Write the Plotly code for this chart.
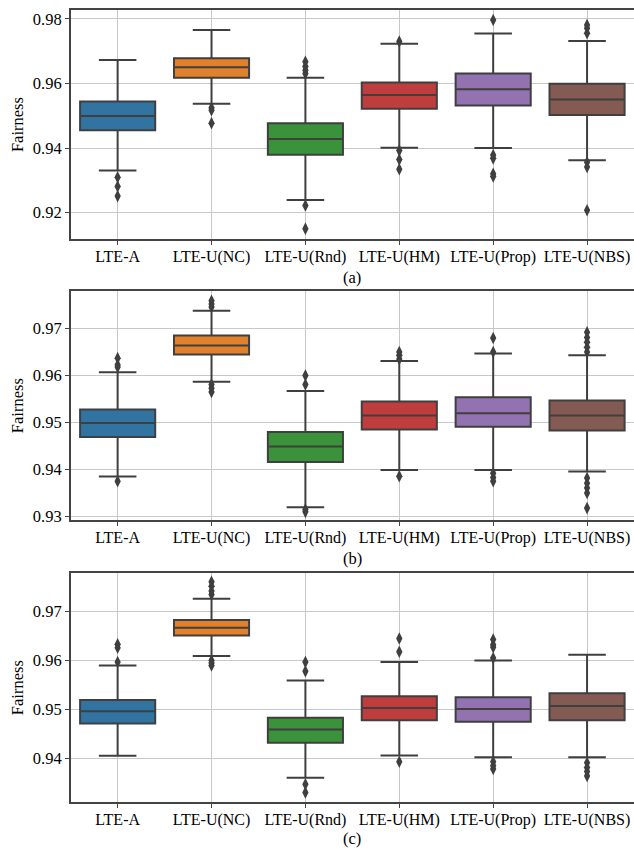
import plotly.graph_objects as go

categories = ["LTE-A", "LTE-U(NC)", "LTE-U(Rnd)", "LTE-U(HM)", "LTE-U(Prop)", "LTE-U(NBS)"]
colors = ["#3274a1", "#e1812c", "#3a923a", "#c03d3e", "#9372b2", "#845b53"]
panel_labels = ["(a)", "(b)", "(c)"]

# Panel (a)
lo_a  = [0.9330, 0.9537, 0.9239, 0.9401, 0.9400, 0.9362]
q1_a  = [0.9455, 0.9618, 0.9379, 0.9522, 0.9532, 0.9502]
med_a = [0.9499, 0.9650, 0.9428, 0.9564, 0.9582, 0.9550]
q3_a  = [0.9544, 0.9678, 0.9477, 0.9603, 0.9631, 0.9599]
hi_a  = [0.9673, 0.9766, 0.9618, 0.9723, 0.9755, 0.9732]
out_a = [[0.9309, 0.9281, 0.9251],
         [0.9525, 0.9517, 0.9477],
         [0.9667, 0.9653, 0.9641, 0.9631, 0.9222, 0.9150],
         [0.9730, 0.9392, 0.9364, 0.9334],
         [0.9797, 0.9378, 0.9368, 0.9320, 0.9312],
         [0.9781, 0.9771, 0.9756, 0.9356, 0.9341, 0.9207]]

# Panel (b)
lo_b  = [0.9384, 0.9586, 0.9319, 0.9398, 0.9398, 0.9395]
q1_b  = [0.9468, 0.9644, 0.9415, 0.9484, 0.9490, 0.9482]
med_b = [0.9498, 0.9663, 0.9448, 0.9514, 0.9519, 0.9514]
q3_b  = [0.9527, 0.9684, 0.9479, 0.9544, 0.9553, 0.9546]
hi_b  = [0.9606, 0.9737, 0.9566, 0.9630, 0.9646, 0.9642]
out_b = [[0.9636, 0.9622, 0.9617, 0.9374],
         [0.9758, 0.9751, 0.9745, 0.9580, 0.9572, 0.9564],
         [0.9599, 0.9580, 0.9314, 0.9309],
         [0.9649, 0.9642, 0.9634, 0.9385],
         [0.9679, 0.9649, 0.9391, 0.9382, 0.9374],
         [0.9691, 0.9680, 0.9670, 0.9659, 0.9649, 0.9381, 0.9370, 0.9360, 0.9349, 0.9317]]

# Panel (c)
lo_c  = [0.9405, 0.9609, 0.9360, 0.9406, 0.9402, 0.9402]
q1_c  = [0.9471, 0.9651, 0.9432, 0.9478, 0.9475, 0.9478]
med_c = [0.9496, 0.9667, 0.9459, 0.9503, 0.9501, 0.9507]
q3_c  = [0.9519, 0.9683, 0.9483, 0.9527, 0.9525, 0.9533]
hi_c  = [0.9590, 0.9726, 0.9559, 0.9597, 0.9600, 0.9612]
out_c = [[0.9633, 0.9626, 0.9597],
         [0.9761, 0.9752, 0.9742, 0.9735, 0.9600, 0.9595, 0.9590],
         [0.9597, 0.9578, 0.9347, 0.9330],
         [0.9645, 0.9618, 0.9393],
         [0.9643, 0.9632, 0.9627, 0.9605, 0.9393, 0.9385, 0.9378],
         [0.9391, 0.9381, 0.9373, 0.9364]]

yranges = [[0.9117, 0.9828], [0.9291, 0.9779], [0.9310, 0.9779]]
ytickvals = [[0.92, 0.94, 0.96, 0.98], [0.93, 0.94, 0.95, 0.96, 0.97], [0.94, 0.95, 0.96, 0.97]]

W, H = 634, 854
panels_px = [(10, 241), (293, 524), (577, 808)]
label_px = [279, 562, 844]
x0_px = 70.7

panels = [
    (lo_a, q1_a, med_a, q3_a, hi_a, out_a),
    (lo_b, q1_b, med_b, q3_b, hi_b, out_b),
    (lo_c, q1_c, med_c, q3_c, hi_c, out_c),
]

FONT = "Liberation Serif"
LINE = "#3f3f3f"
SPINE = "#444444"

fig = go.Figure()
annotations = []
for p, (lo, q1, med, q3, hi, outs) in enumerate(panels):
    xa = "x" if p == 0 else f"x{p+1}"
    ya = "y" if p == 0 else f"y{p+1}"
    for i, cat in enumerate(categories):
        fig.add_trace(go.Box(
            x=[i], q1=[q1[i]], median=[med[i]], q3=[q3[i]],
            lowerfence=[lo[i]], upperfence=[hi[i]],
            width=0.8, whiskerwidth=0.5, boxpoints=False,
            fillcolor=colors[i], line=dict(color=LINE, width=2),
            xaxis=xa, yaxis=ya, showlegend=False, hoverinfo="skip",
        ))
        fig.add_trace(go.Scatter(
            x=[i] * len(outs[i]), y=outs[i], mode="markers",
            marker=dict(symbol="diamond-tall", size=9, color=LINE),
            xaxis=xa, yaxis=ya, showlegend=False, hoverinfo="skip",
        ))
    top, bot = panels_px[p]
    dom = [1 - bot / H, 1 - top / H]
    axcommon = dict(showline=True, linecolor=SPINE, linewidth=1.5,
                    showgrid=True, gridcolor="#c8c8c8", gridwidth=1,
                    ticks="outside", ticklen=4, tickcolor=SPINE, tickwidth=1.2,
                    zeroline=False)
    fig.update_layout(**{
        ("xaxis" if p == 0 else f"xaxis{p+1}"): dict(
            domain=[x0_px / W, 1.0], range=[-0.5, 5.5], mirror=True,
            tickvals=list(range(len(categories))), ticktext=categories,
            tickfont=dict(family=FONT, size=16, color="black"),
            ticklabelstandoff=-2,
            anchor=ya, **axcommon),
        ("yaxis" if p == 0 else f"yaxis{p+1}"): dict(
            domain=dom, range=yranges[p], tickvals=ytickvals[p], mirror=False,
            tickfont=dict(family=FONT, size=16.5, color="black"),
            tickformat=".2f", anchor=xa, **axcommon),
    })
    annotations.append(dict(text=panel_labels[p], x=(x0_px + W) / 2 / W, y=1 - label_px[p] / H,
                            xref="paper", yref="paper", showarrow=False,
                            font=dict(family=FONT, size=16.5, color="black"),
                            xanchor="center", yanchor="middle"))
    annotations.append(dict(text="Fairness", x=17.5 / W, y=1 - (top + bot) / 2 / H,
                            xref="paper", yref="paper", showarrow=False, textangle=-90,
                            font=dict(family=FONT, size=16.5, color="black"),
                            xanchor="center", yanchor="middle"))

fig.update_layout(width=W, height=H, margin=dict(l=0, r=0, t=0, b=0),
                  plot_bgcolor="white", paper_bgcolor="white",
                  boxmode="overlay", annotations=annotations,
                  font=dict(family=FONT, size=16, color="black"))

fig.write_html("out.html", config={"displayModeBar": False},
               post_script="document.body.style.margin='0';document.body.style.padding='0';")
